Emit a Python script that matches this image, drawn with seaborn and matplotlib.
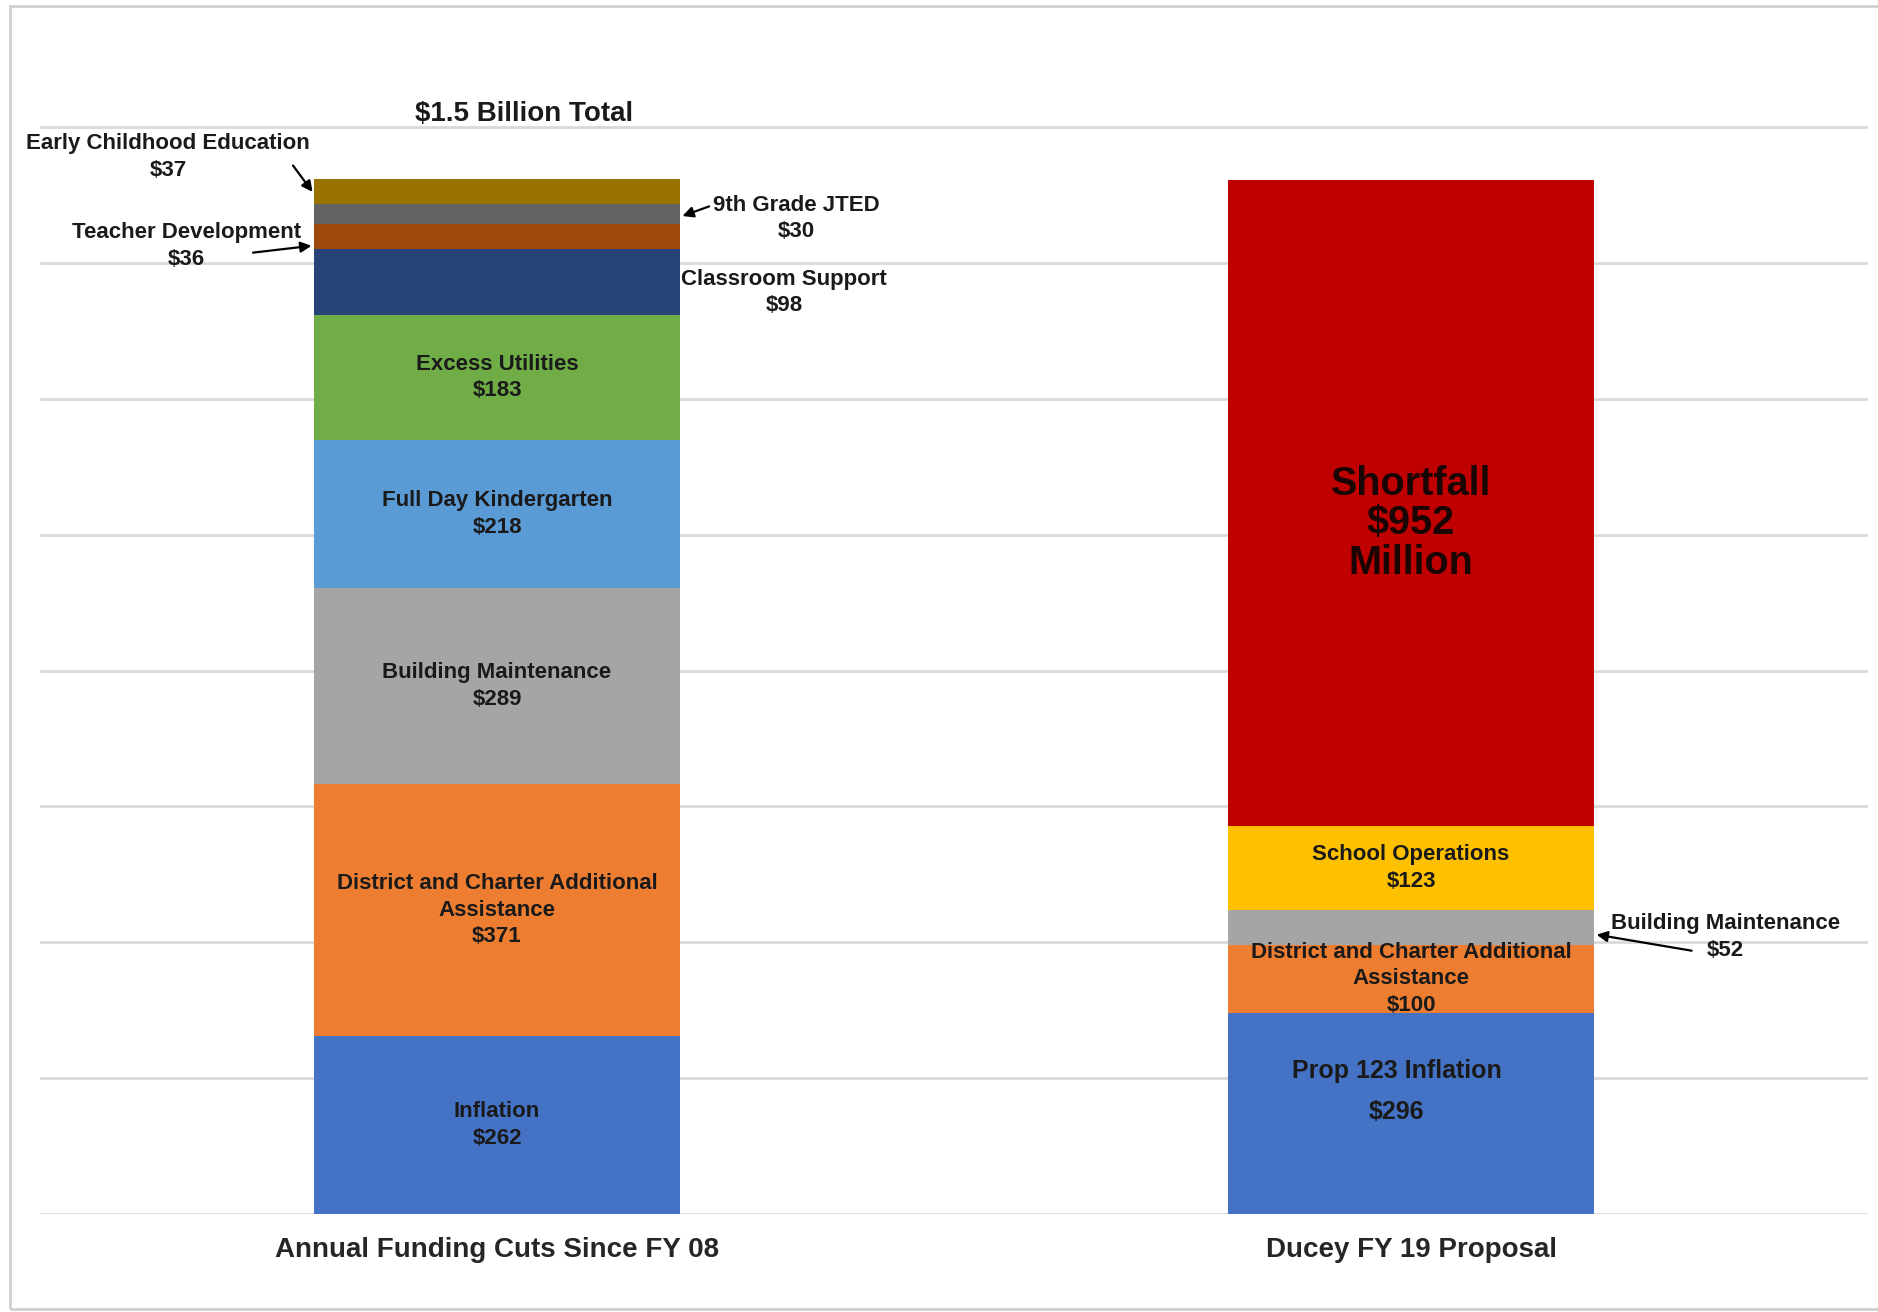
import matplotlib.pyplot as plt
import seaborn as sns
from matplotlib.patches import Rectangle

# Bars
categories = ['Annual Funding Cuts Since FY 08', 'Ducey FY 19 Proposal']

# Left bar segments, bottom to top ($ millions)
cuts_labels = ['Inflation', 'District and Charter Additional\nAssistance', 'Building Maintenance',
               'Full Day Kindergarten', 'Excess Utilities', 'Classroom Support',
               'Teacher Development', '9th Grade JTED', 'Early Childhood Education']
cuts_values = [262, 371, 289, 218, 183, 98, 36, 30, 37]
cuts_colors = ['#4472C4', '#ED7D31', '#A5A5A5', '#5B9BD5', '#70AD47', '#264478',
               '#9E480E', '#636363', '#997300']

# Right bar segments, bottom to top ($ millions)
proposal_labels = ['Prop 123 Inflation', 'District and Charter Additional\nAssistance',
                   'Building Maintenance', 'School Operations', 'Shortfall']
proposal_values = [296, 100, 52, 123, 952]
proposal_colors = ['#4472C4', '#ED7D31', '#A5A5A5', '#FFC000', '#C00000']

total_label = '$1.5 Billion Total'

sns.set_style('white')
plt.rcParams['font.family'] = ['Liberation Sans', 'DejaVu Sans']

fig = plt.figure(figsize=(18.78, 13.12), dpi=100)
ax = fig.add_axes([0.0213, 0.0747, 0.9734, 0.8293])

BAR_W = 0.4
TXT = '#1a1a1a'
FS = 16
LS = 1.35


# Draw one stacked bar with seaborn, segment by segment
def draw_stack(cat, values, colors):
    bottom = 0
    for v, c in zip(values, colors):
        sns.barplot(x=[cat], y=[v], bottom=bottom, order=categories, color=c,
                    width=BAR_W, saturation=1, linewidth=0, ax=ax)
        bottom += v


draw_stack(categories[0], cuts_values, cuts_colors)
draw_stack(categories[1], proposal_values, proposal_colors)

# Labels drawn outside the bar: (text x, text y, arrow tail x, arrow tail y, arrow tip dy)
outside_left = {
    'Early Childhood Education': (-0.36, 1556, -0.225, 1547, -4),
    'Teacher Development': (-0.34, 1425, -0.27, 1415, -13),
    '9th Grade JTED': (0.327, 1466, 0.235, 1485, -4),
    'Classroom Support': (0.314, 1357, None, None, 0),
}
outside_right = {
    'Building Maintenance': (1.344, 408, 1.31, 387, -10),
}
# vertical / horizontal nudges for labels inside the bars
inside_dy = {(1, 'Prop 123 Inflation'): 33, (1, 'Shortfall'): -30}
inside_dx = {(1, 'Prop 123 Inflation'): -0.016}


def label_stack(idx, labels, values, outside):
    bottom = 0
    for lab, v in zip(labels, values):
        mid = bottom + v / 2
        bottom += v
        if lab in outside:
            tx, ty, ax_, ay_, tip_dy = outside[lab]
            ax.text(tx, ty, f'{lab}\n${v}', ha='center', va='center', fontsize=FS,
                    fontweight='bold', color=TXT, linespacing=LS)
            if ax_ is not None:
                edge = idx - BAR_W / 2 if tx < idx else idx + BAR_W / 2
                ax.annotate('', xy=(edge, mid + tip_dy), xytext=(ax_, ay_),
                            arrowprops=dict(arrowstyle='-|>', color='black', lw=1.6,
                                            mutation_scale=16))
            continue
        x = idx + inside_dx.get((idx, lab), 0)
        y = mid + inside_dy.get((idx, lab), 0)
        if lab == 'Shortfall':
            ax.text(x, y, f'{lab}\n${v}\nMillion', ha='center', va='center', fontsize=28.5,
                    fontweight='bold', color='#1a0505', linespacing=1.05)
        elif lab == 'Prop 123 Inflation':
            ax.text(x, y, f'{lab}\n${v}', ha='center', va='center', fontsize=18,
                    fontweight='bold', color=TXT, linespacing=1.9)
        else:
            ax.text(x, y, f'{lab}\n${v}', ha='center', va='center', fontsize=FS,
                    fontweight='bold', color=TXT, linespacing=LS)


label_stack(0, cuts_labels, cuts_values, outside_left)
label_stack(1, proposal_labels, proposal_values, outside_right)

ax.text(0.03, 1619, total_label, ha='center', va='center', fontsize=20,
        fontweight='bold', color=TXT)

# Axes styling
ax.set_xlim(-0.5, 1.5)
ax.set_ylim(0, 1602)
ax.set_yticks(range(0, 1601, 200))
ax.grid(axis='y', color='#d9d9d9', linewidth=2)
ax.set_axisbelow(True)
ax.tick_params(left=False, labelleft=False, bottom=False, axis='both')
ax.tick_params(axis='x', pad=13)
for t in ax.get_xticklabels():
    t.set_fontsize(20)
    t.set_fontweight('bold')
    t.set_color('#262626')
ax.set_xlabel('')
ax.set_ylabel('')
sns.despine(ax=ax, left=True, bottom=True)

# Faint frame around the chart
fig.add_artist(Rectangle((0.0053, 0.0023), 1.2, 0.993, transform=fig.transFigure,
                         fill=False, edgecolor='#d0d0d0', linewidth=2))

plt.savefig('out.png', dpi=100)
